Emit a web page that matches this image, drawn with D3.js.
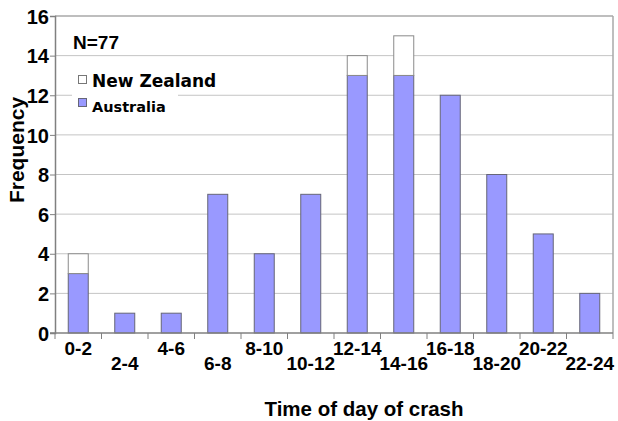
<!DOCTYPE html>
<html>
<head>
<meta charset="utf-8">
<script src="https://cdn.jsdelivr.net/npm/d3@7"></script>
<style>
  body { margin: 0; background: #fff; }
  text { font-family: "Liberation Sans", Arial, sans-serif; font-weight: bold; fill: #000; }
</style>
</head>
<body>
<svg id="chart"></svg>
<script>
// данные
let categories = ["0-2","2-4","4-6","6-8","8-10","10-12","12-14","14-16","16-18","18-20","20-22","22-24"];
let australia = [3, 1, 1, 7, 4, 7, 13, 13, 12, 8, 5, 2];
let newZealand = [1, 0, 0, 0, 0, 0, 1, 2, 0, 0, 0, 0];
let yTicks = [0, 2, 4, 6, 8, 10, 12, 14, 16];

let width = 618, height = 421;
let plotLeft = 55, plotRight = 613, plotTop = 16, plotBottom = 333;

let svg = d3.select("#chart")
    .attr("width", width)
    .attr("height", height);

let scaleX = d3.scaleBand()
    .domain(categories)
    .range([plotLeft, plotRight])
    .paddingInner(0.57)
    .paddingOuter(0.285);

let band = d3.scaleBand().domain(categories).range([plotLeft, plotRight]);

let scaleY = d3.scaleLinear()
    .domain([0, 16])
    .range([plotBottom, plotTop]);

// сетка
svg.append("g")
    .selectAll("line")
    .data(yTicks.slice(1))
    .enter()
    .append("line")
    .attr("x1", plotLeft)
    .attr("x2", plotRight)
    .attr("y1", d => scaleY(d))
    .attr("y2", d => scaleY(d))
    .attr("stroke", d => d == 16 ? "#a8a8a8" : "#c4c4c4")
    .attr("stroke-width", d => d == 16 ? 1.5 : 1);

// правая граница
svg.append("line")
    .attr("x1", plotRight).attr("x2", plotRight)
    .attr("y1", plotTop).attr("y2", plotBottom)
    .attr("stroke", "#a8a8a8")
    .attr("stroke-width", 1.5);

// легенда (белый фон)
svg.append("rect")
    .attr("x", 72).attr("y", 63)
    .attr("width", 106).attr("height", 54)
    .attr("fill", "#fff");

// столбики Australia
svg.append("g")
    .selectAll("rect")
    .data(categories)
    .enter()
    .append("rect")
    .attr("x", d => scaleX(d))
    .attr("width", scaleX.bandwidth())
    .attr("y", (d, i) => scaleY(australia[i]))
    .attr("height", (d, i) => scaleY(0) - scaleY(australia[i]))
    .attr("fill", "#9999ff")
    .attr("stroke", "#666677")
    .attr("stroke-width", 1);

// столбики New Zealand (сверху)
svg.append("g")
    .selectAll("rect")
    .data(categories.filter((d, i) => newZealand[i] > 0))
    .enter()
    .append("rect")
    .attr("x", d => scaleX(d))
    .attr("width", scaleX.bandwidth())
    .attr("y", d => {
        let i = categories.indexOf(d);
        return scaleY(australia[i] + newZealand[i]);
    })
    .attr("height", d => {
        let i = categories.indexOf(d);
        return scaleY(australia[i]) - scaleY(australia[i] + newZealand[i]);
    })
    .attr("fill", "#fff")
    .attr("stroke", "#8a8a8a")
    .attr("stroke-width", 1);

// ось OY
let axisY = d3.axisLeft(scaleY).tickValues(yTicks).tickSize(5).tickPadding(1);
let gy = svg.append("g")
    .attr("transform", `translate(${plotLeft}, 0)`)
    .call(axisY);
gy.select(".domain").attr("stroke", "#808080").attr("stroke-width", 1.5);
gy.selectAll(".tick line").attr("stroke", "#808080");
gy.selectAll("text").style("font-size", "20px").attr("dy", "0.36em");

// ось OX
let gx = svg.append("g")
    .attr("transform", `translate(0, ${plotBottom})`);
gx.append("line")
    .attr("x1", plotLeft - 5).attr("x2", plotRight)
    .attr("stroke", "#808080").attr("stroke-width", 1.5);
gx.selectAll(".tk")
    .data(categories.concat(["end"]))
    .enter()
    .append("line")
    .attr("x1", (d, i) => i < categories.length ? band(d) : plotRight)
    .attr("x2", (d, i) => i < categories.length ? band(d) : plotRight)
    .attr("y1", 0).attr("y2", 6)
    .attr("stroke", "#808080");
gx.selectAll(".lbl")
    .data(categories)
    .enter()
    .append("text")
    .attr("x", d => band(d) + band.bandwidth() / 2)
    .attr("y", (d, i) => i % 2 == 0 ? 22 : 37)
    .attr("text-anchor", "middle")
    .style("font-size", "19px")
    .text(d => d);

// подписи осей
svg.append("text")
    .attr("x", 364).attr("y", 416)
    .attr("text-anchor", "middle")
    .style("font-size", "20.5px")
    .text("Time of day of crash");

svg.append("text")
    .attr("transform", "translate(24, 150) rotate(-90)")
    .attr("text-anchor", "middle")
    .style("font-size", "21px")
    .text("Frequency");

// N и легенда
svg.append("text")
    .attr("x", 73).attr("y", 49)
    .style("font-size", "19px")
    .text("N=77");

svg.append("rect")
    .attr("x", 78.5).attr("y", 75.5).attr("width", 8).attr("height", 8)
    .attr("fill", "#fff").attr("stroke", "#777");
svg.append("text")
    .attr("x", 92).attr("y", 87)
    .style("font-family", "'DejaVu Sans', sans-serif")
    .style("font-size", "17px")
    .text("New Zealand");

svg.append("rect")
    .attr("x", 78.5).attr("y", 98.5).attr("width", 8).attr("height", 8)
    .attr("fill", "#9999ff").attr("stroke", "#666677");
svg.append("text")
    .attr("x", 92).attr("y", 112)
    .style("font-family", "'DejaVu Sans', sans-serif")
    .style("font-size", "14.5px")
    .text("Australia");
</script>
</body>
</html>
